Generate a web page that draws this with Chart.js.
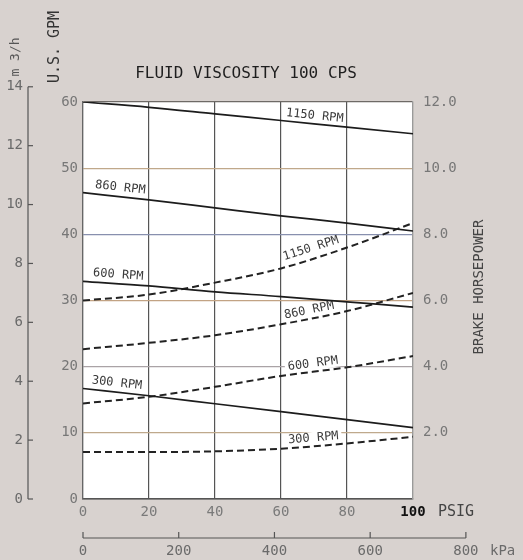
<!DOCTYPE html>
<html>
<head>
<meta charset="utf-8">
<script src="https://cdn.jsdelivr.net/npm/chart.js@4.4.1/dist/chart.umd.min.js"></script>
<style>
  html, body { margin: 0; padding: 0; background: #d8d2cf; }
  #wrap { width: 523px; height: 560px; }
</style>
</head>
<body>
<div id="wrap"><canvas id="grafico" width="523" height="560"></canvas></div>
<script>
// presion en PSIG
var psi = [0, 20, 40, 60, 80, 100];

// caudal U.S. GPM (lineas continuas)
var gpm1150 = [60.0, 59.2, 58.2, 57.2, 56.2, 55.2];
var gpm860 = [46.3, 45.2, 44.0, 42.8, 41.7, 40.5];
var gpm600 = [32.9, 32.2, 31.3, 30.6, 29.8, 29.0];
var gpm300 = [16.7, 15.6, 14.4, 13.2, 12.0, 10.8];

// potencia al freno HP (lineas de trazos)
var hp1150 = [6.00, 6.18, 6.54, 6.97, 7.60, 8.34];
var hp860 = [4.53, 4.72, 4.95, 5.28, 5.68, 6.23];
var hp600 = [2.89, 3.09, 3.39, 3.72, 3.98, 4.32];
var hp300 = [1.42, 1.42, 1.44, 1.52, 1.68, 1.88];

// ejes auxiliares
var m3hTicks = [0, 2, 4, 6, 8, 10, 12, 14];
var kpaTicks = [0, 200, 400, 600, 800];
var GPM_PER_M3H = 4.45;
var KPA_PER_PSI = 6.895;

var titulo = 'FLUID VISCOSITY 100 CPS';

var mono = '"DejaVu Sans Mono", monospace';

function serie(vals) {
  return vals.map(function (v, i) { return { x: psi[i], y: v }; });
}

function lineaGPM(vals) {
  return {
    data: serie(vals), yAxisID: 'y', borderColor: '#1c1c1c', borderWidth: 1.7,
    pointRadius: 0, cubicInterpolationMode: 'monotone', fill: false
  };
}
function lineaHP(vals) {
  return {
    data: serie(vals), yAxisID: 'y2', borderColor: '#222', borderWidth: 2,
    borderDash: [7, 4], pointRadius: 0, cubicInterpolationMode: 'monotone', fill: false
  };
}

// etiquetas de rpm sobre las curvas
var etiquetas = [
  { text: '1150 RPM', ds: 0, psi: 70, off: 8 },
  { text: '860 RPM', ds: 1, psi: 11, off: 9 },
  { text: '600 RPM', ds: 2, psi: 10.5, off: 9 },
  { text: '300 RPM', ds: 3, psi: 10, off: 9 },
  { text: '1150 RPM', ds: 4, psi: 70, off: 10 },
  { text: '860 RPM', ds: 5, psi: 69, off: 8 },
  { text: '600 RPM', ds: 6, psi: 70, off: 8, box: true },
  { text: '300 RPM', ds: 7, psi: 70, off: 8, box: true }
];

var colorGrillaH = { 0: '#555', 10: '#bfa98c', 20: '#aaa3a6', 30: '#c2a384', 40: '#8890ae', 50: '#c0a88a', 60: '#6e6a66' };

function interp(vals, p) {
  for (var i = 0; i < psi.length - 1; i++) {
    if (p <= psi[i + 1]) {
      var t = (p - psi[i]) / (psi[i + 1] - psi[i]);
      return vals[i] + (vals[i + 1] - vals[i]) * t;
    }
  }
  return vals[vals.length - 1];
}

var fondo = {
  id: 'fondo',
  beforeDraw: function (chart) {
    var ctx = chart.ctx, a = chart.chartArea;
    ctx.save();
    ctx.fillStyle = '#d8d2cf';
    ctx.fillRect(0, 0, chart.width, chart.height);
    ctx.fillStyle = '#ffffff';
    ctx.fillRect(a.left, a.top, a.right - a.left, a.bottom - a.top);
    ctx.restore();
  }
};

var rotulos = {
  id: 'rotulos',
  beforeDatasetsDraw: function (chart) {
    var ctx = chart.ctx;
    var xs = chart.scales.x;
    ctx.save();
    ctx.font = '12px ' + mono;
    ctx.textAlign = 'center';
    ctx.textBaseline = 'middle';
    etiquetas.forEach(function (e) {
      var ds = chart.data.datasets[e.ds];
      var vals = ds.data.map(function (d) { return d.y; });
      var ys = chart.scales[ds.yAxisID];
      var x0 = xs.getPixelForValue(e.psi);
      var y0 = ys.getPixelForValue(interp(vals, e.psi));
      var x1 = xs.getPixelForValue(e.psi - 8), y1 = ys.getPixelForValue(interp(vals, e.psi - 8));
      var x2 = xs.getPixelForValue(e.psi + 8), y2 = ys.getPixelForValue(interp(vals, e.psi + 8));
      var ang = Math.atan2(y2 - y1, x2 - x1);
      ctx.save();
      ctx.translate(x0, y0);
      ctx.rotate(ang);
      if (e.box) {
        var w = ctx.measureText(e.text).width;
        ctx.fillStyle = '#ffffff';
        ctx.fillRect(-w / 2 - 3, -e.off - 6, w + 6, 12);
      }
      ctx.fillStyle = '#3a3a3a';
      ctx.fillText(e.text, 0, -e.off);
      ctx.restore();
    });
    ctx.restore();
  }
};

var extras = {
  id: 'extras',
  afterDraw: function (chart) {
    var ctx = chart.ctx;
    var xs = chart.scales.x, ys = chart.scales.y;
    ctx.save();

    // titulo
    ctx.fillStyle = '#1e1e1e';
    ctx.font = '16px ' + mono;
    ctx.textAlign = 'center';
    ctx.textBaseline = 'alphabetic';
    ctx.fillText(titulo, 246, 78);

    // U.S. GPM y m3/h (verticales)
    ctx.save();
    ctx.translate(59, 47);
    ctx.rotate(-Math.PI / 2);
    ctx.font = '15px ' + mono;
    ctx.fillStyle = '#333';
    ctx.textBaseline = 'alphabetic';
    ctx.fillText('U.S. GPM', 0, 0);
    ctx.restore();

    ctx.save();
    ctx.translate(19, 57);
    ctx.rotate(-Math.PI / 2);
    ctx.font = '13px ' + mono;
    ctx.fillStyle = '#555';
    ctx.fillText('m 3/h', 0, 0);
    ctx.restore();

    // eje m3/h
    var axX = 28;
    var yTop = ys.getPixelForValue(14 * GPM_PER_M3H);
    var yBot = ys.getPixelForValue(0);
    ctx.strokeStyle = '#555';
    ctx.lineWidth = 1.2;
    ctx.beginPath();
    ctx.moveTo(axX, yTop);
    ctx.lineTo(axX, yBot);
    ctx.stroke();
    ctx.font = '14px ' + mono;
    ctx.fillStyle = '#6a6a6a';
    ctx.textAlign = 'right';
    ctx.textBaseline = 'middle';
    m3hTicks.forEach(function (v) {
      var y = ys.getPixelForValue(v * GPM_PER_M3H);
      ctx.beginPath();
      ctx.moveTo(axX, y);
      ctx.lineTo(axX + 5, y);
      ctx.stroke();
      ctx.fillText(String(v), axX - 5, y);
    });

    // eje kPa
    var kY = 538;
    var kL = xs.getPixelForValue(0);
    var kR = xs.getPixelForValue(800 / KPA_PER_PSI);
    ctx.beginPath();
    ctx.moveTo(kL, kY);
    ctx.lineTo(kR, kY);
    ctx.stroke();
    ctx.textAlign = 'center';
    kpaTicks.forEach(function (v) {
      var x = xs.getPixelForValue(v / KPA_PER_PSI);
      ctx.beginPath();
      ctx.moveTo(x, kY);
      ctx.lineTo(x, kY - 6);
      ctx.stroke();
      ctx.fillText(String(v), x, kY + 13);
    });
    ctx.textAlign = 'left';
    ctx.fillText('kPa', 490, kY + 13);

    // PSIG
    ctx.fillStyle = '#444';
    ctx.font = '15px ' + mono;
    ctx.fillText('PSIG', 438, 512);

    // BRAKE HORSEPOWER
    ctx.save();
    ctx.translate(483, 287);
    ctx.rotate(-Math.PI / 2);
    ctx.textAlign = 'center';
    ctx.textBaseline = 'alphabetic';
    ctx.font = '14px ' + mono;
    ctx.fillStyle = '#444';
    ctx.fillText('BRAKE HORSEPOWER', 0, 0);
    ctx.restore();

    ctx.restore();
  }
};

Chart.defaults.font.family = mono;

var ctx = document.getElementById('grafico').getContext('2d');
var chart = new Chart(ctx, {
  type: 'line',
  data: {
    datasets: [
      lineaGPM(gpm1150), lineaGPM(gpm860), lineaGPM(gpm600), lineaGPM(gpm300),
      lineaHP(hp1150), lineaHP(hp860), lineaHP(hp600), lineaHP(hp300)
    ]
  },
  options: {
    responsive: false,
    animation: false,
    devicePixelRatio: 1,
    layout: { padding: { top: 102, left: 0, right: 0, bottom: 0 } },
    plugins: {
      legend: { display: false },
      tooltip: { enabled: false },
      title: { display: false }
    },
    scales: {
      x: {
        type: 'linear', min: 0, max: 100,
        afterFit: function (s) { s.height = 61; },
        grid: {
          drawTicks: false,
          lineWidth: 1.2,
          color: function (c) {
            var v = c.tick.value;
            if (v === 0) return '#666';
            if (v === 100) return '#9a9a9a';
            return '#555';
          }
        },
        border: { color: '#555', width: 1.5 },
        ticks: {
          stepSize: 20, padding: 5,
          color: function (c) { return c.tick.value === 100 ? '#111' : '#7a7a7a'; },
          font: function (c) {
            return c.tick && c.tick.value === 100 ? { size: 14, weight: 'bold' } : { size: 14 };
          }
        }
      },
      y: {
        position: 'left', min: 0, max: 60,
        afterFit: function (s) { s.width = 83; },
        grid: {
          drawTicks: false,
          lineWidth: 1.3,
          color: function (c) { return colorGrillaH[c.tick.value] || '#999'; }
        },
        border: { color: '#666', width: 1.2 },
        ticks: { stepSize: 10, padding: 5, color: '#777', font: { size: 14 } }
      },
      y2: {
        position: 'right', min: 0, max: 12,
        afterFit: function (s) { s.width = 110; },
        grid: { display: false, drawTicks: false },
        border: { color: '#9a9a9a', width: 1.2 },
        ticks: {
          stepSize: 2, padding: 10, color: '#777', font: { size: 14 },
          callback: function (v) { return v === 0 ? '' : v.toFixed(1); }
        }
      }
    }
  },
  plugins: [fondo, rotulos, extras]
});
</script>
</body>
</html>
